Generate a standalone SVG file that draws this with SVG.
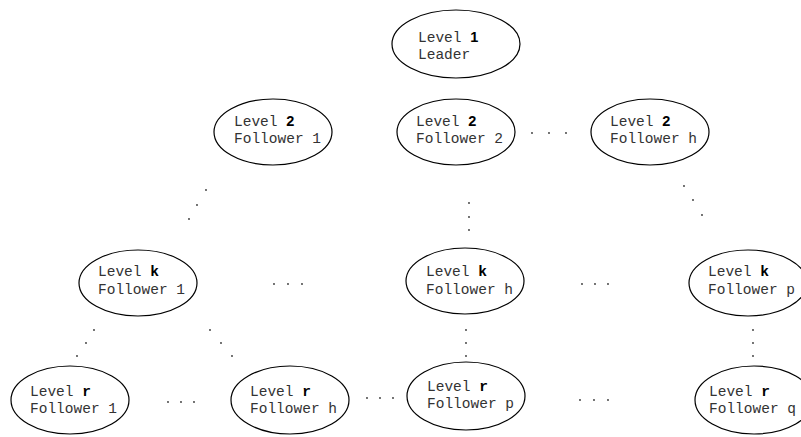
<svg xmlns="http://www.w3.org/2000/svg" width="801" height="437" viewBox="0 0 801 437">
  <style>
    .node ellipse { fill: #ffffff; stroke: #000000; stroke-width: 1.2; }
    .node text { font-family: "Liberation Mono", "Courier New", monospace; font-size: 14.5px; fill: #333333; }
    .num { font-family: "Liberation Sans", Arial, sans-serif; font-weight: bold; fill: #000000; }
    .var { font-weight: bold; fill: #000000; }
    .dots circle { fill: #333333; }
  </style>
  <rect width="801" height="437" fill="#ffffff"/>

  <!-- level 1 -->
  <g id="leader" class="node">
    <ellipse cx="456" cy="44" rx="64" ry="34"/>
    <text x="418" y="42">Level <tspan class="num">1</tspan></text>
    <text x="418" y="59">Leader</text>
  </g>

  <!-- level 2 -->
  <g id="l2-f1" class="node">
    <ellipse cx="273" cy="132" rx="59" ry="33"/>
    <text x="234" y="126">Level <tspan class="num">2</tspan></text>
    <text x="234" y="143">Follower 1</text>
  </g>
  <g id="l2-f2" class="node">
    <ellipse cx="456" cy="132" rx="59" ry="33"/>
    <text x="416" y="126">Level <tspan class="num">2</tspan></text>
    <text x="416" y="143">Follower 2</text>
  </g>
  <g id="l2-fh" class="node">
    <ellipse cx="650" cy="132" rx="59" ry="33"/>
    <text x="610" y="126">Level <tspan class="num">2</tspan></text>
    <text x="610" y="143">Follower h</text>
  </g>

  <!-- level k -->
  <g id="lk-f1" class="node">
    <ellipse cx="138" cy="283" rx="59" ry="33"/>
    <text x="98" y="276">Level <tspan class="var">k</tspan></text>
    <text x="98" y="294">Follower 1</text>
  </g>
  <g id="lk-fh" class="node">
    <ellipse cx="465" cy="281" rx="59" ry="33"/>
    <text x="426" y="276">Level <tspan class="var">k</tspan></text>
    <text x="426" y="294">Follower h</text>
  </g>
  <g id="lk-fp" class="node">
    <ellipse cx="748" cy="283" rx="59" ry="33"/>
    <text x="708" y="276">Level <tspan class="var">k</tspan></text>
    <text x="708" y="294">Follower p</text>
  </g>

  <!-- level r -->
  <g id="lr-f1" class="node">
    <ellipse cx="70" cy="400" rx="59" ry="34"/>
    <text x="30" y="396">Level <tspan class="var">r</tspan></text>
    <text x="30" y="413">Follower 1</text>
  </g>
  <g id="lr-fh" class="node">
    <ellipse cx="290" cy="400" rx="59" ry="34"/>
    <text x="250" y="396">Level <tspan class="var">r</tspan></text>
    <text x="250" y="413">Follower h</text>
  </g>
  <g id="lr-fp" class="node">
    <ellipse cx="466" cy="396" rx="59" ry="34"/>
    <text x="427" y="391">Level <tspan class="var">r</tspan></text>
    <text x="427" y="408">Follower p</text>
  </g>
  <g id="lr-fq" class="node">
    <ellipse cx="754" cy="400" rx="59" ry="34"/>
    <text x="709" y="396">Level <tspan class="var">r</tspan></text>
    <text x="709" y="413">Follower q</text>
  </g>

  <!-- dotted connectors and ellipsis marks -->
  <g id="connectors" class="dots">
    <!-- level 2 to level k -->
    <circle cx="206" cy="190" r="0.9"/><circle cx="197" cy="205" r="0.9"/><circle cx="189" cy="219" r="0.9"/>
    <circle cx="469" cy="203" r="0.9"/><circle cx="469" cy="217" r="0.9"/><circle cx="469" cy="230" r="0.9"/>
    <circle cx="684" cy="186" r="0.9"/><circle cx="693" cy="200" r="0.9"/><circle cx="702" cy="215" r="0.9"/>
    <!-- level k to level r -->
    <circle cx="94" cy="330" r="0.9"/><circle cx="86" cy="343" r="0.9"/><circle cx="77" cy="356" r="0.9"/>
    <circle cx="210" cy="330" r="0.9"/><circle cx="221" cy="343" r="0.9"/><circle cx="232" cy="356" r="0.9"/>
    <circle cx="466" cy="330" r="0.9"/><circle cx="466" cy="343" r="0.9"/><circle cx="466" cy="356" r="0.9"/>
    <circle cx="753" cy="330" r="0.9"/><circle cx="753" cy="343" r="0.9"/><circle cx="753" cy="356" r="0.9"/>
    <!-- horizontal ellipses between siblings -->
    <circle cx="532" cy="133" r="0.9"/><circle cx="549" cy="133" r="0.9"/><circle cx="566" cy="133" r="0.9"/>
    <circle cx="274" cy="284" r="0.9"/><circle cx="288" cy="284" r="0.9"/><circle cx="302" cy="284" r="0.9"/>
    <circle cx="582" cy="284" r="0.9"/><circle cx="595" cy="284" r="0.9"/><circle cx="608" cy="284" r="0.9"/>
    <circle cx="168" cy="402" r="0.9"/><circle cx="181" cy="402" r="0.9"/><circle cx="194" cy="402" r="0.9"/>
    <circle cx="367" cy="398" r="0.9"/><circle cx="380" cy="398" r="0.9"/><circle cx="393" cy="398" r="0.9"/>
    <circle cx="580" cy="400" r="0.9"/><circle cx="594" cy="400" r="0.9"/><circle cx="608" cy="400" r="0.9"/>
  </g>
</svg>
